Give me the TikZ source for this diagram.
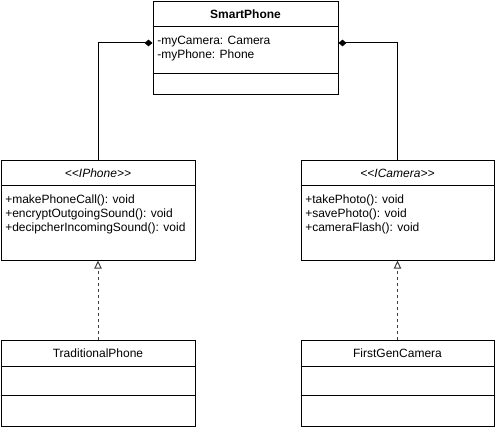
\documentclass[tikz,border=0pt]{standalone}
\usepackage{fontspec}
\setmainfont{Liberation Sans}
\usetikzlibrary{arrows.meta, positioning}
\tikzset{
    classbox/.style={rectangle, draw=black, line width=0.75pt, fill=white, inner sep=0pt},
    title/.style={font=\fontsize{9}{10.5}\selectfont, inner sep=0pt},
    member/.style={font=\fontsize{9}{10.5}\selectfont, align=left, anchor=north west, inner sep=0pt},
    divider/.style={line width=0.75pt},
    compose/.style={-{Diamond[length=6pt, width=5pt]}, line width=0.75pt},
    realize/.style={-{Triangle[open, length=6pt, width=5.5pt, fill=white]}, line width=0.75pt, draw=black!75, dash pattern=on 2.25pt off 2.25pt}
}
\newcommand{\stereo}[1]{\textless\kern0pt\textless#1\textgreater\kern0pt\textgreater}
\begin{document}
\begin{tikzpicture}[x=0.75pt, y=-0.75pt]
    \useasboundingbox (0,0) rectangle (496,430);
    % classes
    \node[classbox, minimum width=138.75pt, minimum height=69.75pt] (smart) at (245.5,47.5) {};
    \node[classbox, minimum width=145.5pt, minimum height=75pt] (iphone) at (98,210) {};
    \node[classbox, minimum width=144.75pt, minimum height=75pt] (icamera) at (397.5,210) {};
    \node[classbox, minimum width=145.5pt, minimum height=64.5pt] (tradphone) at (98,383) {};
    \node[classbox, minimum width=144.75pt, minimum height=64.5pt] (firstcam) at (397.5,383) {};

    % compartments
    \draw[divider] (smart.north west) ++(0,26) -- ++(185,0);
    \draw[divider] (smart.north west) ++(0,73) -- ++(185,0);
    \draw[divider] (iphone.north west) ++(0,26) -- ++(194,0);
    \draw[divider] (icamera.north west) ++(0,26) -- ++(193,0);
    \draw[divider] (tradphone.north west) ++(0,27) -- ++(194,0);
    \draw[divider] (tradphone.north west) ++(0,56) -- ++(194,0);
    \draw[divider] (firstcam.north west) ++(0,27) -- ++(193,0);
    \draw[divider] (firstcam.north west) ++(0,56) -- ++(193,0);

    % names
    \node[title, font=\fontsize{9}{10.5}\selectfont\bfseries] (smartname) at (245.5,14) {SmartPhone};
    \node[title, font=\fontsize{9}{10.5}\selectfont\itshape] (iphonename) at (98,173) {\stereo{IPhone}};
    \node[title, font=\fontsize{9}{10.5}\selectfont\itshape] (icameraname) at (397.5,173) {\stereo{ICamera}};
    \node[title] (tradname) at (98,353.5) {TraditionalPhone};
    \node[title] (firstname) at (397.5,353.5) {FirstGenCamera};

    % members
    \node[member] (smartattr) at (157,35.5) {-myCamera: Camera\\-myPhone: Phone};
    \node[member] (iphoneops) at (5,195) {+makePhoneCall(): void\\+encryptOutgoingSound(): void\\+decipcherIncomingSound(): void};
    \node[member] (icameraops) at (305,195) {+takePhoto(): void\\+savePhoto(): void\\+cameraFlash(): void};

    \draw[compose] (iphone.north) |- ([yshift=3.4pt]smart.west);
    \draw[compose] (icamera.north) |- ([yshift=3.4pt]smart.east);
    \draw[realize] (tradphone.north) -- (iphone.south);
    \draw[realize] (firstcam.north) -- (icamera.south);
\end{tikzpicture}
\end{document}
